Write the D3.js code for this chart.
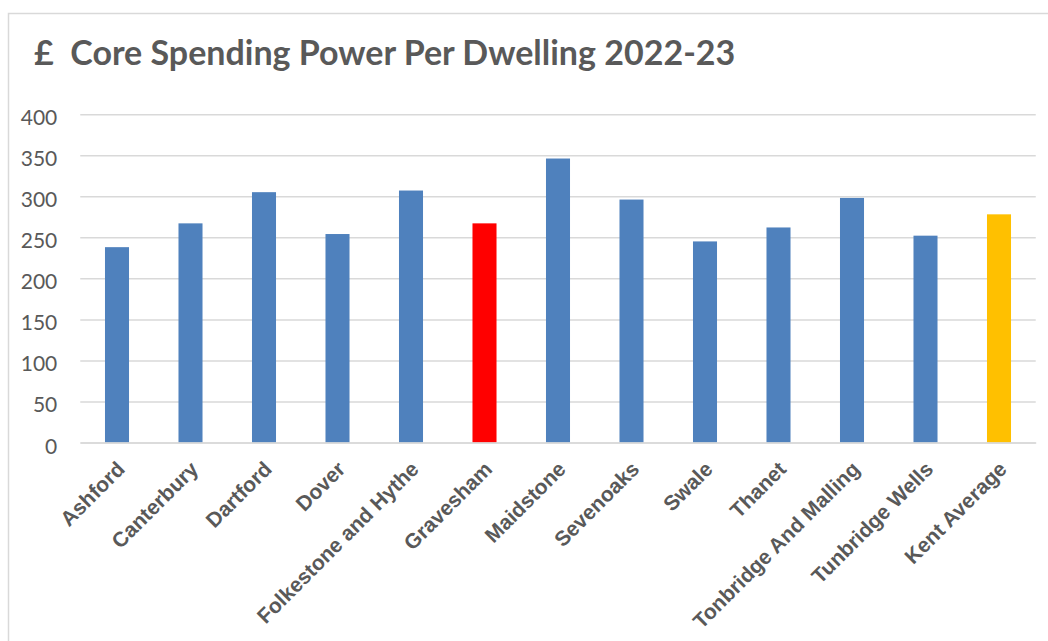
<!DOCTYPE html>
<html><head><meta charset="utf-8">
<script src="https://cdn.jsdelivr.net/npm/d3@7"></script>
<style>html,body{margin:0;padding:0;background:#fff;overflow:hidden}</style>
</head><body>
<svg id="c" width="1048" height="641"></svg>
<script>
const categories = ["Ashford","Canterbury","Dartford","Dover","Folkestone and Hythe","Gravesham","Maidstone","Sevenoaks","Swale","Thanet","Tonbridge And Malling","Tunbridge Wells","Kent Average"];
const values = [238,267,305,254,307,267,346,296,245,262,298,252,278];
const barColors = ["#4f81bd","#4f81bd","#4f81bd","#4f81bd","#4f81bd","#ff0000","#4f81bd","#4f81bd","#4f81bd","#4f81bd","#4f81bd","#4f81bd","#ffc000"];
const yTicks = [0,50,100,150,200,250,300,350,400];
const title = "£  Core Spending Power Per Dwelling 2022-23";

const svg = d3.select("#c");
svg.append("rect").attr("x",8.5).attr("y",13.5).attr("width",1100).attr("height",700)
  .attr("fill","#fff").attr("stroke","#d9d9d9").attr("stroke-width",1.5);

svg.append("text").attr("x",34).attr("y",65).attr("fill","#595959")
  .attr("font-family","Lato, 'Noto Sans', sans-serif").attr("font-weight","bold")
  .attr("font-size",34).style("white-space","pre").text(title);

const x = d3.scaleBand().domain(categories).range([80.25,1035.75]).paddingInner(0.673).paddingOuter(0.3365);
const y = d3.scaleLinear().domain([0,400]).range([442.5,114.2]);

const yAxis = d3.axisLeft(y).tickValues(yTicks).tickSize(-(1035.75-80.25)).tickPadding(23);
const gy = svg.append("g").attr("transform","translate(80.25,0)").call(yAxis);
gy.select(".domain").remove();
gy.selectAll(".tick line").attr("stroke","#d9d9d9").attr("stroke-width",1.5);
gy.selectAll(".tick text").attr("fill","#595959").attr("font-family","Lato, sans-serif")
  .attr("font-size",21).attr("dy","0.5em");

svg.append("g").selectAll("rect").data(values).join("rect")
  .attr("x",(d,i)=>x(categories[i])).attr("width",x.bandwidth())
  .attr("y",d=>y(d)).attr("height",d=>y(0)-y(d))
  .attr("fill",(d,i)=>barColors[i]);

const xAxis = d3.axisBottom(x).tickSize(0).tickPadding(0);
const gx = svg.append("g").attr("transform","translate(0,442.5)").call(xAxis);
gx.select(".domain").attr("stroke","#d9d9d9").attr("stroke-width",1.5);
gx.selectAll(".tick text").attr("fill","#595959").attr("font-family","'Liberation Sans', Arial, sans-serif")
  .attr("font-weight","bold").attr("font-size",21)
  .attr("text-anchor","end").attr("dy",null).attr("y",0)
  .attr("transform","translate(9,28) rotate(-45)");
</script>
</body></html>
